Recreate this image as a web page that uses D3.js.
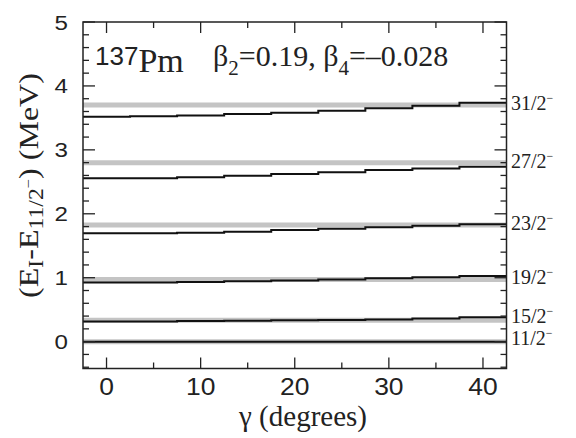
<!DOCTYPE html>
<html>
<head>
<meta charset="utf-8">
<script src="https://cdn.jsdelivr.net/npm/d3@7/dist/d3.min.js"></script>
<style>
  body { margin: 0; background: #fff; }
  svg { display: block; }
</style>
</head>
<body>
<div id="chart"></div>
<script>
// gamma grid of the calculation (degrees)
const gammas = [0, 5, 10, 15, 20, 25, 30, 35, 40];

// level spins and experimental energies (MeV, relative to 11/2-)
const spins = ['11/2', '15/2', '19/2', '23/2', '27/2', '31/2'];
const expEnergies = [0, 0.335, 0.974, 1.824, 2.80, 3.70];

// calculated energies vs gamma
const calc11 = [0, 0, 0, 0, 0, 0, 0, 0, 0];
const calc15 = [0.317, 0.317, 0.322, 0.328, 0.333, 0.338, 0.348, 0.364, 0.380];
const calc19 = [0.927, 0.927, 0.932, 0.943, 0.958, 0.974, 0.990, 1.006, 1.026];
const calc23 = [1.694, 1.694, 1.703, 1.719, 1.746, 1.766, 1.788, 1.813, 1.835];
const calc27 = [2.554, 2.554, 2.570, 2.595, 2.621, 2.648, 2.684, 2.710, 2.736];
const calc31 = [3.518, 3.524, 3.539, 3.560, 3.581, 3.612, 3.649, 3.690, 3.737];
const calcSeries = [calc11, calc15, calc19, calc23, calc27, calc31];

const xTicks = [0, 10, 20, 30, 40];
const yTicks = [0, 1, 2, 3, 4, 5];

const chartWidth = 576;
const chartHeight = 438;
const plotLeft = 83, plotRight = 506.5, plotTop = 22, plotBottom = 368.5;

const x = d3.scaleLinear().domain([-2.5, 42.5]).range([plotLeft, plotRight]);
const y = d3.scaleLinear().domain([-0.42, 5]).range([plotBottom, plotTop]);

const svg = d3.select('#chart')
  .append('svg')
  .attr('width', chartWidth)
  .attr('height', chartHeight);

const serif = "'Liberation Serif', 'Times New Roman', serif";
const sans = "'Liberation Sans', Arial, sans-serif";

// experimental levels (grey bands)
svg.selectAll('line.exp')
  .data(expEnergies)
  .enter()
  .append('line')
  .attr('class', 'exp')
  .attr('x1', plotLeft)
  .attr('x2', plotRight)
  .attr('y1', d => y(d))
  .attr('y2', d => y(d))
  .attr('stroke', '#c4c4c4')
  .attr('stroke-width', 5);

// calculated levels (black steps)
const [x0, x1] = x.domain();
const step = d3.line()
  .x(d => x(d[0]))
  .y(d => y(d[1]))
  .curve(d3.curveStep);

svg.selectAll('path.calc')
  .data(calcSeries)
  .enter()
  .append('path')
  .attr('class', 'calc')
  .attr('d', vals => {
    const pts = gammas.map((g, i) => [g, vals[i]]);
    pts.unshift([x0, vals[0]]);
    pts.push([x1, vals[vals.length - 1]]);
    return step(pts);
  })
  .attr('fill', 'none')
  .attr('stroke', '#111')
  .attr('stroke-width', 2);

// frame
svg.append('rect')
  .attr('x', plotLeft)
  .attr('y', plotTop)
  .attr('width', plotRight - plotLeft)
  .attr('height', plotBottom - plotTop)
  .attr('fill', 'none')
  .attr('stroke', '#222')
  .attr('stroke-width', 1.5);

// inward ticks on all four sides
const xMinor = d3.range(0, 41, 5);
const yMinor = d3.range(-0.4, 5.01, 0.2).map(v => Math.round(v * 10) / 10);
const ticks = svg.append('g').attr('stroke', '#222').attr('stroke-width', 1.3);

xMinor.forEach(v => {
  const len = v % 10 === 0 ? 11 : 6;
  ticks.append('line').attr('x1', x(v)).attr('x2', x(v)).attr('y1', plotBottom).attr('y2', plotBottom - len);
  ticks.append('line').attr('x1', x(v)).attr('x2', x(v)).attr('y1', plotTop).attr('y2', plotTop + len);
});
yMinor.forEach(v => {
  const len = Math.abs(v - Math.round(v)) < 1e-6 ? 12 : 6;
  ticks.append('line').attr('y1', y(v)).attr('y2', y(v)).attr('x1', plotLeft).attr('x2', plotLeft + len);
  ticks.append('line').attr('y1', y(v)).attr('y2', y(v)).attr('x1', plotRight).attr('x2', plotRight - len);
});

// tick labels
svg.selectAll('text.xt')
  .data(xTicks)
  .enter()
  .append('text')
  .attr('class', 'xt')
  .attr('transform', d => `translate(${x(d)},395) scale(1.15,1)`)
  .attr('text-anchor', 'middle')
  .attr('font-family', sans)
  .attr('font-size', 23)
  .attr('fill', '#222')
  .text(d => d);

svg.selectAll('text.yt')
  .data(yTicks)
  .enter()
  .append('text')
  .attr('class', 'yt')
  .attr('transform', d => `translate(68,${y(d) + 7.5}) scale(1.15,1)`)
  .attr('text-anchor', 'end')
  .attr('font-family', sans)
  .attr('font-size', 21)
  .attr('fill', '#222')
  .text(d => d);

// spin labels on the right
const spinLabels = svg.selectAll('text.spin')
  .data(spins)
  .enter()
  .append('text')
  .attr('class', 'spin')
  .attr('x', 511)
  .attr('y', (d, i) => y(expEnergies[i]) + (i < 2 ? 3 : 5))
  .attr('font-family', serif)
  .attr('font-size', 20)
  .attr('fill', '#222');
spinLabels.append('tspan').text(d => d);
spinLabels.append('tspan').attr('dy', -8).attr('font-size', 12).text('\u2212');

// nucleus label
const nuc = svg.append('text').attr('x', 95).attr('y', 72).attr('fill', '#222');
nuc.append('tspan').attr('font-family', sans).attr('font-size', 26).attr('dy', -7).text('137');
nuc.append('tspan').attr('font-family', serif).attr('font-size', 34).attr('dy', 7).text('Pm');

// deformation label
const beta = svg.append('text')
  .attr('x', 213).attr('y', 66)
  .attr('font-family', serif).attr('font-size', 30).attr('fill', '#222');
beta.append('tspan').text('\u03b2');
beta.append('tspan').attr('font-size', 21).attr('dy', 9).text('2');
beta.append('tspan').attr('dy', -9).text('=0.19, \u03b2');
beta.append('tspan').attr('font-size', 21).attr('dy', 9).text('4');
beta.append('tspan').attr('dy', -9).text('=\u20130.028');

// x axis title
svg.append('text')
  .attr('x', 303).attr('y', 426)
  .attr('text-anchor', 'middle')
  .attr('font-family', serif).attr('font-size', 29).attr('fill', '#222')
  .text('\u03b3 (degrees)');

// y axis title, stretched along its length to the reference span
const yl = svg.append('text')
  .attr('text-anchor', 'middle')
  .attr('font-family', serif).attr('font-size', 27).attr('fill', '#222');
yl.append('tspan').text('(E');
yl.append('tspan').attr('font-size', 20).attr('dy', 5).text('I');
yl.append('tspan').attr('dy', -5).text('-E');
yl.append('tspan').attr('font-size', 20).attr('dy', 5).text('11/2');
yl.append('tspan').attr('font-size', 14).attr('dy', -10).text('\u2212');
yl.append('tspan').attr('dy', 5).text(') (MeV)');
const ylLen = yl.node().getComputedTextLength();
yl.attr('transform', `translate(38,185.5) rotate(-90) scale(${225 / ylLen},1)`);
</script>
</body>
</html>
